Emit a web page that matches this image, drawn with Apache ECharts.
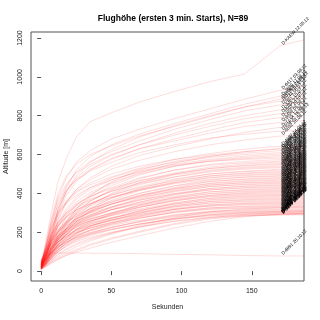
<!DOCTYPE html>
<html><head><meta charset="utf-8">
<script src="https://cdn.jsdelivr.net/npm/echarts@6/dist/echarts.min.js"></script>
<style>html,body{margin:0;padding:0;background:#fff}#c{width:320px;height:320px}</style>
</head><body><div id="c"></div>
<script>
const seconds = [0, 3, 7, 12, 18, 25, 35, 50, 70, 95, 120, 145, 170, 187];
const flights = [
[15, 140, 290, 460, 580, 690, 770, 815, 870, 925, 975, 1015, 1160, 1190],
[20, 110, 240, 380, 480, 560, 620, 680, 730, 785, 835, 885, 930, 955],
[15, 80, 190, 320, 430, 520, 590, 650, 705, 760, 810, 860, 900, 925],
[30, 130, 260, 400, 490, 550, 600, 645, 695, 745, 795, 845, 885, 905],
[10, 70, 170, 300, 410, 490, 560, 625, 690, 750, 800, 845, 875, 890],
[20, 100, 220, 350, 440, 510, 565, 615, 670, 730, 780, 825, 855, 870],
[15, 75, 180, 310, 410, 480, 540, 595, 650, 710, 760, 800, 830, 845],
[30, 120, 250, 370, 450, 505, 550, 600, 650, 700, 745, 785, 810, 820],
[15, 70, 170, 290, 390, 460, 520, 575, 630, 680, 725, 765, 790, 800],
[20, 90, 200, 320, 410, 470, 525, 580, 630, 670, 710, 745, 765, 775],
[10, 60, 150, 260, 350, 420, 480, 540, 595, 640, 680, 715, 740, 750],
[25, 110, 230, 340, 420, 470, 515, 560, 610, 650, 685, 705, 720, 725],
[15, 65, 160, 270, 360, 420, 470, 525, 570, 615, 650, 675, 695, 700],
[30, 95, 190, 285, 355, 405, 445, 485, 530, 575, 605, 628, 643, 652],
[20, 60, 140, 230, 300, 355, 405, 455, 505, 555, 590, 615, 632, 640],
[45, 110, 210, 300, 360, 410, 455, 500, 540, 575, 598, 615, 628, 632],
[15, 50, 110, 180, 250, 320, 390, 460, 520, 565, 592, 608, 620, 625],
[35, 90, 170, 250, 320, 380, 430, 480, 525, 560, 585, 600, 610, 615],
[25, 70, 150, 240, 310, 370, 420, 470, 515, 550, 575, 592, 603, 608],
[40, 80, 140, 200, 260, 320, 380, 440, 495, 540, 570, 585, 596, 600],
[20, 55, 120, 200, 280, 340, 395, 450, 500, 540, 565, 580, 588, 592],
[50, 120, 220, 300, 350, 390, 430, 470, 510, 545, 565, 575, 582, 585],
[15, 45, 100, 170, 240, 300, 360, 420, 475, 520, 550, 565, 574, 578],
[30, 75, 150, 230, 290, 340, 385, 430, 480, 520, 545, 558, 566, 570],
[25, 60, 120, 190, 250, 310, 360, 415, 465, 505, 535, 552, 561, 565],
[40, 100, 180, 250, 300, 345, 385, 425, 465, 500, 528, 545, 554, 558],
[10, 40, 95, 160, 220, 280, 340, 400, 455, 500, 528, 542, 549, 552],
[35, 85, 160, 230, 280, 325, 365, 410, 455, 495, 520, 535, 542, 545],
[20, 50, 110, 180, 240, 295, 345, 395, 445, 485, 515, 530, 537, 540],
[55, 110, 190, 250, 295, 335, 370, 410, 450, 485, 510, 525, 532, 535],
[15, 45, 100, 160, 215, 270, 320, 375, 425, 470, 500, 515, 524, 528],
[30, 70, 140, 210, 260, 305, 345, 390, 435, 475, 500, 512, 519, 522],
[25, 55, 110, 170, 225, 275, 325, 375, 420, 460, 490, 505, 513, 516],
[40, 95, 170, 230, 275, 315, 350, 390, 430, 465, 490, 502, 508, 510],
[10, 35, 80, 140, 200, 255, 310, 365, 415, 455, 482, 496, 502, 505],
[30, 75, 140, 200, 250, 295, 335, 380, 420, 455, 480, 492, 498, 500],
[20, 50, 100, 160, 215, 265, 310, 355, 400, 440, 468, 485, 492, 495],
[45, 105, 180, 240, 280, 315, 345, 380, 415, 450, 472, 483, 488, 490],
[15, 40, 90, 150, 205, 255, 300, 345, 390, 430, 460, 475, 482, 485],
[35, 80, 145, 200, 245, 285, 320, 360, 400, 438, 462, 472, 478, 480],
[25, 60, 115, 170, 220, 265, 305, 345, 385, 425, 452, 466, 472, 475],
[50, 95, 160, 215, 255, 290, 320, 355, 390, 425, 450, 462, 468, 470],
[10, 35, 80, 135, 190, 240, 285, 330, 375, 415, 442, 456, 462, 465],
[30, 70, 130, 185, 230, 270, 305, 345, 385, 420, 444, 454, 458, 460],
[20, 55, 105, 160, 210, 250, 290, 330, 370, 408, 435, 448, 453, 455],
[40, 90, 155, 210, 250, 280, 310, 345, 380, 412, 435, 445, 449, 450],
[15, 40, 85, 140, 190, 235, 275, 315, 355, 395, 425, 438, 444, 446],
[30, 65, 120, 175, 220, 255, 290, 325, 365, 400, 425, 436, 440, 442],
[25, 60, 110, 160, 205, 245, 280, 318, 355, 392, 418, 430, 435, 437],
[45, 95, 155, 205, 240, 270, 300, 330, 365, 398, 418, 427, 430, 432],
[10, 30, 70, 120, 170, 215, 255, 295, 340, 380, 408, 420, 426, 428],
[35, 75, 130, 180, 220, 250, 280, 315, 350, 385, 408, 417, 421, 423],
[20, 50, 95, 145, 190, 230, 265, 300, 340, 375, 400, 412, 416, 418],
[55, 100, 155, 200, 235, 260, 285, 315, 345, 378, 398, 408, 412, 414],
[15, 40, 80, 130, 175, 215, 250, 288, 328, 365, 390, 403, 408, 410],
[30, 70, 120, 170, 205, 240, 270, 300, 335, 370, 390, 400, 403, 405],
[25, 55, 100, 150, 190, 225, 258, 292, 328, 362, 385, 395, 398, 400],
[40, 85, 140, 185, 215, 242, 268, 298, 330, 362, 382, 391, 394, 396],
[10, 30, 65, 110, 155, 195, 232, 270, 310, 350, 375, 386, 390, 392],
[35, 70, 120, 165, 200, 230, 258, 288, 320, 352, 374, 383, 386, 388],
[20, 45, 90, 135, 175, 210, 242, 275, 310, 345, 368, 378, 381, 383],
[45, 90, 140, 180, 210, 235, 258, 285, 315, 345, 365, 373, 376, 378],
[15, 35, 75, 120, 160, 195, 228, 262, 298, 335, 358, 368, 372, 374],
[30, 60, 105, 150, 185, 215, 242, 272, 305, 338, 358, 365, 368, 370],
[25, 50, 90, 135, 170, 202, 232, 264, 298, 330, 350, 360, 363, 365],
[50, 85, 130, 170, 200, 225, 248, 274, 302, 332, 350, 356, 358, 360],
[10, 30, 65, 105, 145, 180, 212, 246, 283, 318, 340, 350, 354, 356],
[35, 65, 110, 150, 180, 208, 234, 262, 292, 323, 342, 348, 350, 352],
[20, 45, 85, 125, 160, 192, 222, 254, 286, 318, 336, 344, 346, 348],
[40, 75, 120, 158, 188, 212, 235, 262, 290, 318, 334, 340, 342, 343],
[15, 35, 70, 110, 145, 178, 208, 240, 272, 305, 325, 334, 337, 338],
[30, 55, 95, 135, 168, 196, 222, 250, 280, 310, 326, 331, 333, 334],
[25, 50, 85, 122, 155, 185, 212, 242, 272, 302, 320, 327, 329, 330],
[45, 75, 115, 150, 178, 200, 222, 248, 275, 302, 318, 323, 324, 325],
[10, 28, 60, 98, 132, 163, 192, 224, 256, 288, 308, 316, 319, 320],
[35, 60, 95, 130, 160, 185, 208, 235, 262, 290, 306, 312, 315, 316],
[20, 40, 75, 110, 142, 172, 198, 226, 255, 284, 302, 308, 311, 312],
[30, 55, 90, 122, 150, 175, 198, 224, 252, 280, 297, 304, 307, 308],
[15, 32, 62, 98, 130, 158, 184, 212, 242, 272, 291, 300, 303, 304],
[25, 45, 78, 112, 140, 165, 188, 214, 242, 270, 287, 296, 299, 300],
[40, 62, 95, 125, 150, 172, 192, 216, 242, 268, 284, 292, 295, 296],
[10, 25, 52, 85, 115, 142, 168, 196, 226, 258, 278, 287, 291, 292],
[20, 38, 68, 100, 128, 152, 175, 200, 228, 256, 274, 284, 288, 290],
[10, 20, 38, 60, 82, 105, 132, 165, 200, 240, 268, 284, 294, 298],
[15, 25, 45, 68, 90, 112, 138, 170, 205, 245, 275, 292, 302, 305],
[20, 30, 50, 75, 100, 125, 155, 190, 228, 266, 290, 302, 308, 310],
[10, 22, 42, 62, 80, 98, 118, 148, 182, 222, 256, 280, 293, 296],
[25, 38, 60, 85, 110, 135, 162, 195, 235, 275, 305, 320, 327, 330],
[10, 80, 92, 93, 93, 93, 92, 92, 90, 86, 84, 80, 78, 78]
];
const flightLabels = [
"D-KAEW 12.05.12","D-6417 03.06.12","D-2830 17.06.12","D-KOLB 24.06.12","D-5129 01.07.12",
"D-0744 08.07.12","D-3361 15.07.12","D-KIBA 22.07.12","D-1902 29.07.12","D-4458 05.08.12",
"D-7715 12.08.12","D-KMUC 19.08.12","D-9032 26.08.12","D-1187 14.04.12","D-2264 21.04.12",
"D-3095 28.04.12","D-4412 05.05.12","D-5538 06.05.12","D-6601 13.05.12","D-7726 19.05.12",
"D-8843 20.05.12","D-9950 26.05.12","D-0318 27.05.12","D-1475 02.06.12","D-2546 09.06.12",
"D-3687 10.06.12","D-4729 16.06.12","D-5860 23.06.12","D-6931 30.06.12","D-7052 07.07.12",
"D-8123 14.07.12","D-9284 21.07.12","D-0365 28.07.12","D-1436 04.08.12","D-2597 11.08.12",
"D-3658 18.08.12","D-4719 25.08.12","D-5870 01.09.12","D-6941 02.09.12","D-7012 08.09.12",
"D-8173 09.09.12","D-9234 15.09.12","D-0395 16.09.12","D-1456 22.09.12","D-2517 23.09.12",
"D-3678 29.09.12","D-4739 30.09.12","D-5890 06.10.12","D-6951 07.10.12","D-7022 13.10.12",
"D-8183 14.10.12","D-9244 20.10.12","D-0305 21.10.12","D-1466 27.10.12","D-2527 28.10.12",
"D-3688 31.03.12","D-4749 01.04.12","D-5800 07.04.12","D-6961 08.04.12","D-7032 09.04.12",
"D-8193 15.04.12","D-9254 22.04.12","D-0315 29.04.12","D-1476 01.05.12","D-2537 12.05.12",
"D-3698 17.05.12","D-4759 28.05.12","D-5810 03.06.12","D-6971 07.06.12","D-7042 17.06.12",
"D-8103 24.06.12","D-9264 01.07.12","D-0325 08.07.12","D-1486 15.07.12","D-2547 22.07.12",
"D-3608 29.07.12","D-4769 05.08.12","D-5820 12.08.12","D-6981 19.08.12","D-7052 26.08.12",
"D-8113 02.09.12","D-9274 09.09.12","D-0335 16.09.12","D-1496 23.09.12","D-2557 30.09.12",
"D-3618 07.10.12","D-4779 14.10.12","D-5830 21.10.12","D-6991 28.10.12"
];
const yTicks = [0, 200, 400, 600, 800, 1000, 1200];
const xTicks = [0, 50, 100, 150];
const LABEL_T = 173;
const LABEL_IDX = 12;

const chart = echarts.init(document.getElementById('c'), null, {renderer: 'canvas'});
const series = flights.map(f => ({
  type: 'line',
  data: seconds.map((t, i) => [t, f[i]]),
  showSymbol: false, symbol: 'none', silent: true, animation: false,
  lineStyle: {color: 'rgba(255,0,0,0.2)', width: 0.7},
  z: 2
}));
series.push({
  type: 'custom', silent: true, animation: false, z: 5,
  data: flights.map((f, i) => [LABEL_T, f[LABEL_IDX], i]),
  renderItem: (params, api) => {
    const p = api.coord([api.value(0), api.value(1)]);
    return {
      type: 'text', x: p[0], y: p[1], rotation: Math.PI / 4,
      style: {text: flightLabels[api.value(2)], fill: '#000', font: '4.5px "Liberation Sans", Arial, sans-serif',
        align: 'left', verticalAlign: 'bottom'}
    };
  }
});
const axisFont = {fontFamily: '"Liberation Sans", Arial, sans-serif', fontSize: 7, color: '#222'};
chart.setOption({
  animation: false,
  backgroundColor: '#fff',
  title: {text: 'Flughöhe (ersten 3 min. Starts), N=89', left: 168, top: 9, textAlign: 'center',
    textStyle: {fontFamily: '"Liberation Sans", Arial, sans-serif', fontSize: 8.5, fontWeight: 'bold', color: '#000'}},
  grid: {left: 31, right: 16, top: 32, bottom: 39, containLabel: false, outerBoundsMode: 'none',
    show: true, borderColor: '#555', borderWidth: 1, backgroundColor: 'transparent'},
  xAxis: {type: 'value', min: -7.2, max: 187.2,
    name: 'Sekunden', nameLocation: 'middle', nameGap: 23, nameTextStyle: axisFont,
    axisLine: {show: false}, splitLine: {show: false},
    axisTick: {show: true, length: 4, lineStyle: {color: '#555'}, customValues: xTicks},
    axisLabel: Object.assign({margin: 7, customValues: xTicks, formatter: v => String(v)}, axisFont)},
  yAxis: {type: 'value', min: -51, max: 1231,
    name: 'Altitude [m]', nameLocation: 'middle', nameGap: 21, nameRotate: 90, nameTextStyle: axisFont,
    axisLine: {show: false}, splitLine: {show: false},
    axisTick: {show: true, length: 4, lineStyle: {color: '#555'}, customValues: yTicks},
    axisLabel: Object.assign({margin: 7, rotate: 90, customValues: yTicks, formatter: v => String(v)}, axisFont)},
  series: series
});
</script></body></html>
